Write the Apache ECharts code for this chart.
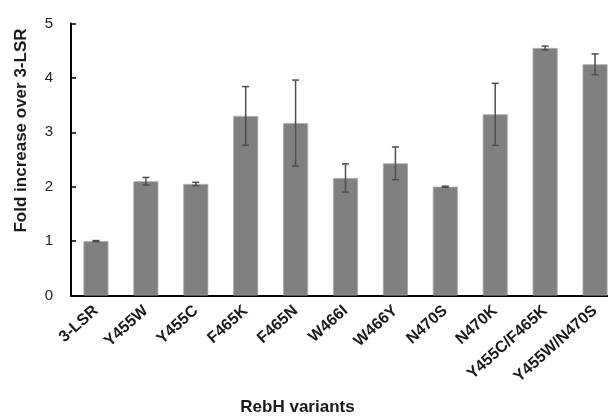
<!DOCTYPE html>
<html>
<head>
<meta charset="utf-8">
<script src="https://cdn.jsdelivr.net/npm/echarts@6/dist/echarts.min.js"></script>
<style>
html,body{margin:0;padding:0;background:#fff;}
#chart{width:608px;height:419px;}
</style>
</head>
<body>
<div id="chart"></div>
<script>
var categories = ['3-LSR','Y455W','Y455C','F465K','F465N','W466I','W466Y','N470S','N470K','Y455C/F465K','Y455W/N470S'];
var means = [1.00, 2.10, 2.05, 3.30, 3.17, 2.16, 2.43, 2.00, 3.33, 4.55, 4.25];
var errors = [0.01, 0.07, 0.03, 0.54, 0.79, 0.26, 0.30, 0.01, 0.57, 0.035, 0.19];
var yTicks = [0, 1, 2, 3, 4, 5];

var chart = echarts.init(document.getElementById('chart'), null, {renderer: 'canvas'});
var errData = categories.map(function (c, i) { return [i, means[i] - errors[i], means[i] + errors[i]]; });

chart.setOption({
  animation: false,
  backgroundColor: '#ffffff',
  grid: {left: 71, top: 23.5, width: 549, bottom: 123.5, containLabel: false, outerBoundsMode: 'none'},
  xAxis: {
    type: 'category',
    data: categories,
    name: 'RebH variants',
    nameLocation: 'middle',
    nameGap: 103,
    nameTextStyle: {fontFamily: 'Liberation Sans', fontWeight: 'bold', fontSize: 17, color: '#1a1a1a', padding: [0, 96, 0, 0]},
    axisLine: {lineStyle: {color: '#000', width: 2}},
    axisTick: {show: false},
    axisLabel: {interval: 0, rotate: 42, margin: 13, fontFamily: 'Liberation Sans', fontWeight: 'bold', fontSize: 16, color: '#1a1a1a'}
  },
  yAxis: {
    type: 'value',
    min: yTicks[0],
    max: yTicks[yTicks.length - 1],
    interval: 1,
    name: 'Fold increase over 3-LSR',
    nameLocation: 'middle',
    nameGap: 41,
    nameTextStyle: {fontFamily: 'Liberation Sans', fontWeight: 'bold', fontSize: 17, color: '#1a1a1a', padding: [0, 0, 0, 58]},
    splitLine: {show: false},
    axisLine: {show: true, lineStyle: {color: '#000', width: 2}},
    axisTick: {show: true, inside: true, length: 5, lineStyle: {color: '#000', width: 1.5}},
    axisLabel: {margin: 18, fontFamily: 'Liberation Sans', fontSize: 15, color: '#222'}
  },
  series: [
    {
      type: 'bar',
      data: means,
      barWidth: 25,
      itemStyle: {color: '#808080', borderColor: '#a8a8a8', borderWidth: 0.8}
    },
    {
      type: 'custom',
      data: errData,
      z: 10,
      renderItem: function (params, api) {
        var x = api.value(0);
        var lo = api.coord([x, api.value(1)]);
        var hi = api.coord([x, api.value(2)]);
        var hw = 3.5;
        var st = {stroke: '#4d4d4d', lineWidth: 1.5};
        return {
          type: 'group',
          children: [
            {type: 'line', shape: {x1: hi[0], y1: hi[1], x2: lo[0], y2: lo[1]}, style: st},
            {type: 'line', shape: {x1: hi[0] - hw, y1: hi[1], x2: hi[0] + hw, y2: hi[1]}, style: st},
            {type: 'line', shape: {x1: lo[0] - hw, y1: lo[1], x2: lo[0] + hw, y2: lo[1]}, style: st}
          ]
        };
      }
    }
  ]
});
</script>
</body>
</html>
